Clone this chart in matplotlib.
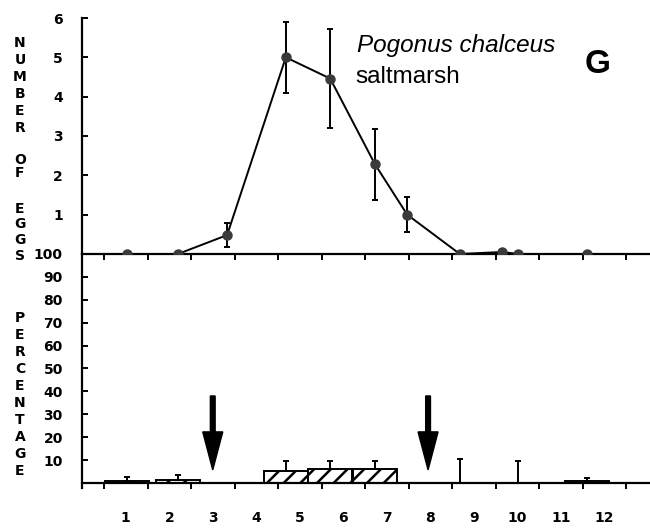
import matplotlib
matplotlib.use('Agg')
import matplotlib.pyplot as plt
from matplotlib.ticker import FixedLocator, NullFormatter

# sampling dates (month units), mean eggs per female with error
dates = [1.03, 2.20, 3.33, 4.68, 5.70, 6.73, 7.47, 8.68, 9.65, 10.02, 11.60]
eggs = [0.0, 0.0, 0.48, 5.0, 4.46, 2.28, 1.0, 0.0, 0.05, 0.0, 0.0]
eggs_err = [0.0, 0.0, 0.3, 0.9, 1.25, 0.9, 0.44, 0.0, 0.0, 0.0, 0.0]

# percentage of gravid females per sample and its error
pct = [0.7, 1.2, 0.0, 5.2, 6.1, 6.1, 0.0, 0.0, 0.0, 0.0, 0.8]
pct_err = [1.9, 2.3, 0.0, 4.3, 3.4, 3.3, 0.0, 10.5, 0.0, 9.6, 1.3]

months = list(range(1, 13))
month_labels = [str(m) for m in months]
arrow_months = [3.0, 7.95]

plt.rcParams['hatch.linewidth'] = 1.8

lab_font = ['Liberation Sans Narrow', 'DejaVu Sans']
lab_kw = dict(family=lab_font, fontweight='bold', fontsize=10)

fig = plt.figure(figsize=(6.5, 5.3), dpi=100)
H = 530
left = 82.25 / 650
ax1 = fig.add_axes([left, 0.5208, 1 - left, 0.4452])
ax2 = fig.add_axes([left, 0.0887 - 0.0086, 1 - left, 0.4321 + 0.0086])

xmax = (650 - 82.25) / 43.5
bounds = [m + 0.5 for m in range(0, 13)]

# egg numbers
ax1.errorbar(dates, eggs, yerr=eggs_err, color='black', lw=1.4,
             elinewidth=1.4, capsize=2.5, capthick=1.4,
             marker='o', ms=6.5, mfc='#3a3a3a', mec='#3a3a3a', zorder=3)
ax1.set_xlim(0, xmax)
ax1.set_ylim(0, 6)
ax1.set_yticks([1, 2, 3, 4, 5, 6])
ax1.set_xticks(bounds)
ax1.xaxis.set_major_formatter(NullFormatter())
for s in ['top', 'right']:
    ax1.spines[s].set_visible(False)
for s in ['left', 'bottom']:
    ax1.spines[s].set_linewidth(1.6)
ax1.tick_params(axis='y', direction='in', length=4, width=1.4, pad=14)
ax1.tick_params(axis='x', direction='out', length=4.5, width=1.4)
for t in ax1.get_yticklabels():
    t.set(**lab_kw)
ax1.patch.set_alpha(0)

fig.text(357, H - 52, 'Pogonus chalceus', transform=None, fontsize=17.5,
         style='italic', family='Liberation Sans', va='baseline')
fig.text(355, H - 83, 'saltmarsh', transform=None, fontsize=17.5,
         family='Liberation Sans', va='baseline')

# percentages
ax2.bar(dates, pct, width=1.0, facecolor='white', edgecolor='black',
        lw=1.4, hatch='//', zorder=2)
ax2.errorbar(dates, pct, yerr=[[0] * len(pct), pct_err], fmt='none',
             ecolor='black', elinewidth=1.4, capsize=2.5, capthick=1.4,
             zorder=3)
for xm in arrow_months:
    ax2.arrow(xm, 38, 0, -32.3, width=0.11, head_width=0.46,
              head_length=16.6, length_includes_head=True,
              color='black', zorder=4)
ax2.set_xlim(0, xmax)
ax2.set_ylim(-2, 100)
ax2.set_yticks(range(10, 101, 10))
ax2.xaxis.set_major_locator(FixedLocator(bounds))
ax2.xaxis.set_major_formatter(NullFormatter())
ax2.xaxis.set_minor_locator(FixedLocator(months))
ax2.set_xticklabels(month_labels, minor=True)
for s in ['top', 'right']:
    ax2.spines[s].set_visible(False)
for s in ['left', 'bottom']:
    ax2.spines[s].set_linewidth(1.6)
ax2.spines['bottom'].set_position(('data', 0))
ax2.tick_params(axis='y', direction='in', length=4, width=1.4, pad=14)
ax2.tick_params(axis='x', which='major', direction='out', length=4.5,
                width=1.4)
ax2.tick_params(axis='x', which='minor', length=0, pad=20)
for t in ax2.get_yticklabels() + ax2.get_xticklabels(minor=True):
    t.set(**lab_kw)
ax2.patch.set_alpha(0)

# big panel letter
fig.text(585, H - 73, 'G', transform=None, fontsize=24,
         fontweight='bold', family='Liberation Sans', va='baseline')


# stacked vertical axis titles
def stack(word, y0, step):
    for i, ch in enumerate(word):
        fig.text(20, H - (y0 + i * step), ch, transform=None,
                 ha='center', va='center', **lab_kw)


stack('NUMBER', 43, 17)
stack('OF', 160, 13)
stack('EGGS', 209, 15.5)
stack('PERCENTAGE', 318, 17)

fig.savefig('out.png', dpi=100)
